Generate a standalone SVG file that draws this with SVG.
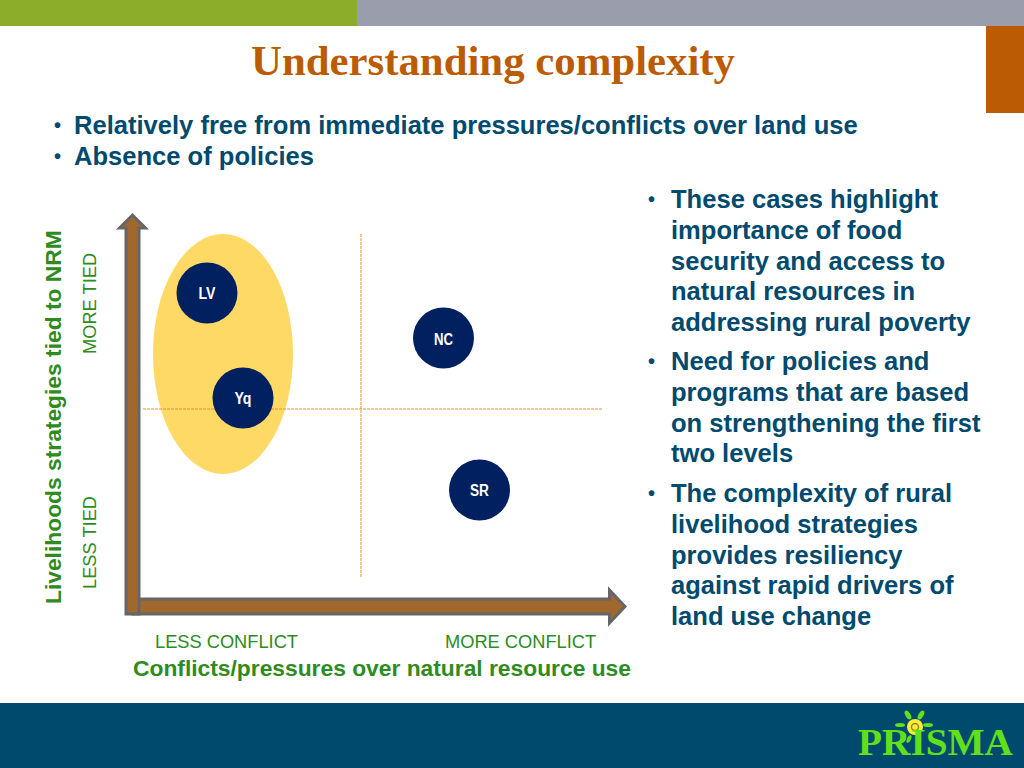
<svg xmlns="http://www.w3.org/2000/svg" width="1024" height="768" viewBox="0 0 1024 768">
<style>
.b{font-family:"Liberation Sans",Arial,sans-serif;font-weight:bold;font-size:25.550px;fill:#004a6e}
.bu{font-family:"Liberation Sans",Arial,sans-serif;font-size:20px;fill:#004a6e}
.g{font-family:"Liberation Sans",Arial,sans-serif;font-size:18.250px;fill:#2e8b1e}
.gb{font-family:"Liberation Sans",Arial,sans-serif;font-weight:bold;font-size:22.800px;fill:#2e8b1e}
.n{fill:#002060}
.nt{font-family:"Liberation Sans",sans-serif;font-weight:bold;font-size:16px;fill:#fff;text-anchor:middle}
.ar{fill:#a0682f;stroke:#666;stroke-width:3}
.d{stroke:#e8912a;stroke-width:1;stroke-dasharray:3 1;fill:none}
</style>
<rect width="1024" height="768" fill="#fff"/>
<rect width="357" height="26" fill="#8cad2a"/>
<rect x="357" width="667" height="26" fill="#9a9dab"/>
<rect x="986" y="26" width="38" height="87" fill="#bb5c05"/>
<rect y="703" width="1024" height="65" fill="#004a6e"/>
<text x="251" y="75" font-family="Liberation Serif,serif" font-weight="bold" font-size="42" fill="#bb5c05" textLength="484" lengthAdjust="spacingAndGlyphs">Understanding complexity</text>
<g id="top-bullets" class="b">
<text class="bu" x="54" y="132">•</text><text x="74" y="134">Relatively free from immediate pressures/conflicts over land use</text>
<text class="bu" x="54" y="163">•</text><text x="74" y="165">Absence of policies</text>
</g>
<g id="right-bullets" class="b">
<text class="bu" x="648" y="206">•</text>
<text x="671" y="208">These cases highlight</text>
<text x="671" y="239">importance of food</text>
<text x="671" y="270">security and access to</text>
<text x="671" y="300">natural resources in</text>
<text x="671" y="331">addressing rural poverty</text>
<text class="bu" x="648" y="368">•</text>
<text x="671" y="370">Need for policies and</text>
<text x="671" y="401">programs that are based</text>
<text x="671" y="432">on strengthening the first</text>
<text x="671" y="462">two levels</text>
<text class="bu" x="648" y="500">•</text>
<text x="671" y="502">The complexity of rural</text>
<text x="671" y="533">livelihood strategies</text>
<text x="671" y="564">provides resiliency</text>
<text x="671" y="594">against rapid drivers of</text>
<text x="671" y="625">land use change</text>
</g>
<ellipse id="highlight" cx="223" cy="354" rx="70" ry="120" fill="#ffd966"/>
<g id="connectors">
<path class="d" d="M143 409H603"/>
<path class="d" d="M361 234V578"/>
<path class="ar" d="M133 614V599H609.500V590L625 606.500L609.500 623V614Z"/>
<path class="ar" d="M126 614V228H119.500L132.500 215L145.500 228H139V614Z"/>
</g>
<g id="LV"><circle class="n" cx="207" cy="293" r="30.500"/><text class="nt" x="207" y="299" textLength="17" lengthAdjust="spacingAndGlyphs">LV</text></g>
<g id="NC"><circle class="n" cx="443.500" cy="338" r="30.500"/><text class="nt" x="443.500" y="345" textLength="19" lengthAdjust="spacingAndGlyphs">NC</text></g>
<g id="Yq"><circle class="n" cx="243" cy="398" r="30.500"/><text class="nt" x="243" y="404" textLength="17" lengthAdjust="spacingAndGlyphs">Yq</text></g>
<g id="SR"><circle class="n" cx="479.500" cy="490" r="30.500"/><text class="nt" x="479.500" y="496" textLength="19" lengthAdjust="spacingAndGlyphs">SR</text></g>
<text class="g" x="155" y="648">LESS CONFLICT</text>
<text class="g" x="445" y="648">MORE CONFLICT</text>
<text class="gb" x="133" y="676">Conflicts/pressures over natural resource use</text>
<text class="g" transform="translate(96,589) rotate(-90)">LESS TIED</text>
<text class="g" transform="translate(96,354) rotate(-90)">MORE TIED</text>
<text class="gb" transform="translate(61,604) rotate(-90)">Livelihoods strategies tied to NRM</text>
<g id="logo">
<g fill="#5fe01a">
<ellipse cx="908" cy="715" rx="2.500" ry="5" transform="rotate(-30 908 715)"/>
<ellipse cx="921" cy="715" rx="2.500" ry="5" transform="rotate(30 921 715)"/>
<ellipse cx="900" cy="725" rx="5" ry="2"/>
<ellipse cx="928" cy="725" rx="5" ry="2"/>
<ellipse cx="909" cy="739" rx="2" ry="4" transform="rotate(25 909 739)"/>
</g>
<circle cx="915" cy="727" r="8" fill="#ffee33"/>
<circle cx="915" cy="727" r="3.500" fill="none" stroke="#8a8a30" stroke-width="1.500"/>
<text x="858" y="755" font-family="Liberation Serif,serif" font-weight="bold" font-size="38" fill="#5fe01a" textLength="155" lengthAdjust="spacingAndGlyphs">PRISMA</text>
</g>
</svg>
